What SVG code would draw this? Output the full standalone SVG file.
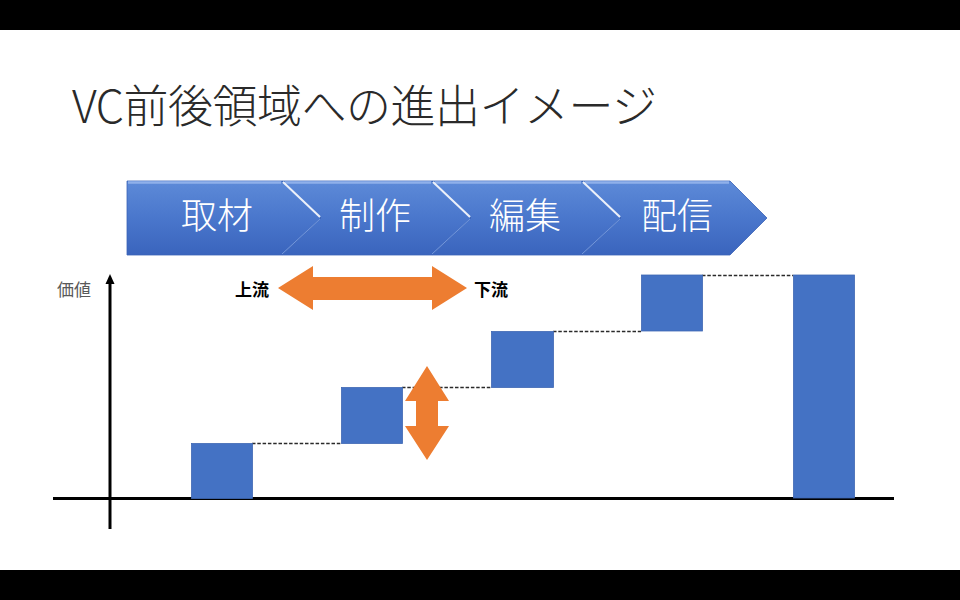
<svg xmlns="http://www.w3.org/2000/svg" width="960" height="600" viewBox="0 0 960 600">
<defs>
<linearGradient id="chev" x1="0" y1="0" x2="0" y2="1">
<stop offset="0" stop-color="#5d8ad8"/>
<stop offset="0.5" stop-color="#4a77cc"/>
<stop offset="1" stop-color="#3a64bd"/>
</linearGradient>
<style>
.bar{fill:#4472c4;stroke:#3f68b3;stroke-width:0.8}
.chev{fill:url(#chev);stroke:#3a62b6;stroke-width:0.8}
.hl{stroke:#ffffff;stroke-width:2;opacity:0.9;fill:none}
.lo{stroke:#7fa2e2;stroke-width:1;opacity:0.8;fill:none}
.top{stroke:#8fb0ea;stroke-width:2.5;fill:none}
.ctext{font-family:"Noto Sans CJK JP","Noto Sans",sans-serif;font-size:36px;fill:#ffffff;text-anchor:middle;font-weight:300}
.dash{stroke:#2a2a2a;stroke-width:1.6;stroke-dasharray:3.5 1.8;fill:none}
.axis{stroke:#000;stroke-width:3;fill:none}
.orange{fill:#ed7d31}
.lbl{font-family:"Noto Sans CJK JP","Noto Sans",sans-serif;font-size:17px}
</style>
</defs>
<rect x="0" y="0" width="960" height="600" fill="#ffffff"/>
<rect x="0" y="0" width="960" height="30" fill="#000"/>
<rect x="0" y="570" width="960" height="30" fill="#000"/>

<g id="title">
<text x="72" y="123" font-family="'Noto Sans CJK JP','Noto Sans',sans-serif" font-size="45" font-weight="300" fill="#2a2a2a" textLength="585" lengthAdjust="spacing">VC前後領域への進出イメージ</text>
</g>

<g id="step-shuzai">
<path class="chev" d="M127,181 H282 L321,218 L282,255 H127 Z"/>
<path class="top" d="M128,182.5 H281"/>
<text class="ctext" x="217" y="229">取材</text>
</g>
<g id="step-seisaku">
<path class="chev" d="M282,181 H432 L471,218 L432,255 H282 L321,218 Z"/>
<path class="top" d="M285,182.5 H431"/>
<path class="hl" d="M283,182 L320,217"/>
<path class="lo" d="M320,219 L282,254"/>
<text class="ctext" x="375" y="229">制作</text>
</g>
<g id="step-henshu">
<path class="chev" d="M432,181 H582 L621,218 L582,255 H432 L471,218 Z"/>
<path class="top" d="M435,182.5 H581"/>
<path class="hl" d="M433,182 L470,217"/>
<path class="lo" d="M470,219 L432,254"/>
<text class="ctext" x="525" y="229">編集</text>
</g>
<g id="step-haishin">
<path class="chev" d="M582,181 H730 L767,218 L730,255 H582 L621,218 Z"/>
<path class="top" d="M585,182.5 H729"/>
<path class="hl" d="M583,182 L620,217"/>
<path class="lo" d="M620,219 L582,254"/>
<text class="ctext" x="677" y="229">配信</text>
</g>

<g id="axes">
<line class="axis" x1="53" y1="498.5" x2="894" y2="498.5"/>
<line class="axis" x1="110" y1="529" x2="110" y2="283" />
<path d="M105.5,284 L110,274 L114.5,284 Z" fill="#000"/>
<text class="lbl" x="57" y="296" fill="#595959">価値</text>
</g>

<g id="connectors">
<line class="dash" x1="252" y1="443.5" x2="341" y2="443.5"/>
<line class="dash" x1="402" y1="387.5" x2="491" y2="387.5"/>
<line class="dash" x1="553" y1="331.5" x2="641" y2="331.5"/>
<line class="dash" x1="702" y1="275.5" x2="793" y2="275.5"/>
</g>

<g id="bar1"><rect class="bar" x="191.5" y="443.5" width="61" height="55"/></g>
<g id="bar2"><rect class="bar" x="341.5" y="387.5" width="61" height="56"/></g>
<g id="bar3"><rect class="bar" x="491.5" y="331.5" width="62" height="56"/></g>
<g id="bar4"><rect class="bar" x="641.5" y="275" width="61" height="56"/></g>
<g id="bar-total"><rect class="bar" x="793.5" y="275" width="61" height="223"/></g>

<g id="arrow-horizontal">
<path class="orange" d="M278,288 L313,266 L313,277 L432,277 L432,266 L467,288 L432,310 L432,300 L313,300 L313,310 Z"/>
<text class="lbl" x="235" y="296" font-weight="bold" fill="#000">上流</text>
<text class="lbl" x="474" y="296" font-weight="bold" fill="#000">下流</text>
</g>

<g id="arrow-vertical">
<path class="orange" d="M427,366 L449,401 L438,401 L438,426 L449,426 L427,460 L405,426 L416,426 L416,401 L405,401 Z"/>
</g>
</svg>
